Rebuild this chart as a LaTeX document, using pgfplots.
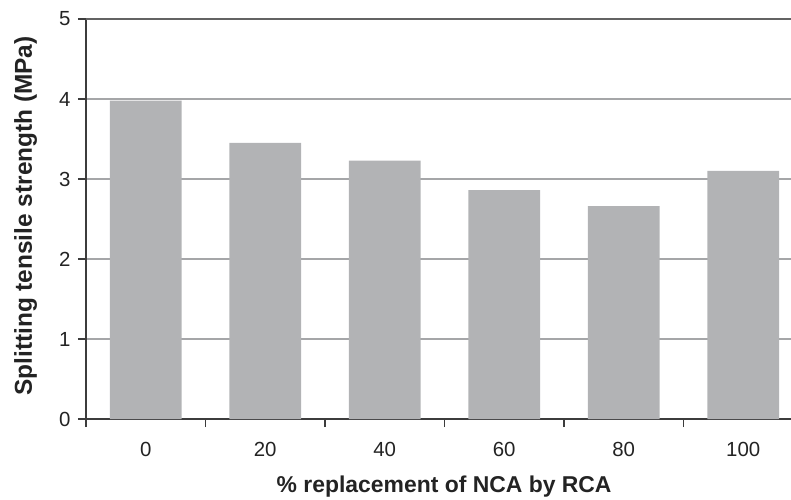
\documentclass[border=0pt]{standalone}
\usepackage{pgfplots}
\pgfplotsset{compat=1.18}
\usepackage{fontspec}
\setmainfont{Liberation Sans}
\definecolor{barg}{RGB}{178,179,181}
\definecolor{gridg}{RGB}{165,166,168}
\definecolor{axisg}{RGB}{60,60,60}
\definecolor{txt}{RGB}{35,35,35}
\begin{document}
\begin{tikzpicture}
\begin{axis}[
    scale only axis,
    width=705bp, height=400bp,
    xmin=-0.5, xmax=5.4, ymin=0, ymax=5,
    axis x line=bottom, axis y line=left,
    axis line style={-, axisg, line width=1.2bp},
    ytick={0,1,2,3,4},
    extra y ticks={5},
    extra y tick style={grid style={axisg!80, line width=1.6bp}},
    ymajorgrids,
    grid style={gridg, line width=1.2bp},
    xtick={0,1,2,3,4,5},
    xticklabels={0,20,40,60,80,100},
    minor xtick={-0.5,0.5,1.5,2.5,3.5,4.5},
    major x tick style={draw=none},
    tick align=outside,
    major tick length=8bp, minor tick length=8bp,
    tick style={axisg, line width=1.2bp},
    /pgf/number format/assume math mode=true,
    tick label style={font=\fontsize{20.5}{24}\selectfont, text=txt},
    xticklabel style={yshift=-12bp},
    yticklabel style={xshift=-4bp},
    xlabel={\% replacement of NCA by RCA},
    ylabel={Splitting tensile strength (MPa)},
    label style={text=txt},
    xlabel style={font=\bfseries\fontsize{23}{27}\selectfont, at={(axis description cs:0.508,-0.185)}, anchor=base},
    ylabel style={font=\bfseries\fontsize{24.5}{28}\selectfont, at={(axis description cs:-0.0766,0.5075)}, anchor=base},
]
\addplot[ybar, bar width=0.6, fill=barg, draw=none]
    coordinates {(0,3.98) (1,3.45) (2,3.23) (3,2.86) (4,2.66) (5,3.10)};
\end{axis}
\pgfresetboundingbox
\path[use as bounding box] (-86bp,-81bp) rectangle (705bp,419bp);
\end{tikzpicture}
\end{document}
